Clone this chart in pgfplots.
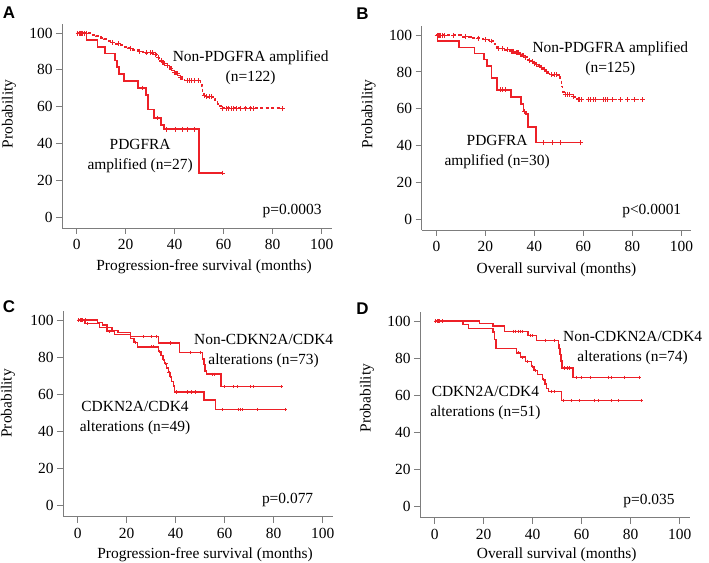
\documentclass[border=0pt]{standalone}
\usepackage{fontspec}
\setmainfont{Liberation Serif}
\newfontfamily\lettfont{Liberation Sans}
\usepackage{pgfplots}
\pgfplotsset{compat=1.18}
\definecolor{kmred}{RGB}{237,32,39}
\definecolor{axgray}{RGB}{125,125,125}
\newcommand\tf{\fontsize{15.5}{20}\selectfont}
\pgfplotsset{km/.style={
  scale only axis, width=269.5bp, height=204bp,
  xmin=-6, xmax=104, ymin=-6, ymax=105,
  axis x line*=bottom, axis y line*=left,
  axis line style={axgray, line width=0.9bp},
  xtick={0,20,...,100}, ytick={0,20,...,100},
  tick align=outside, major tick length=6bp,
  tick style={axgray, line width=0.9bp},
  tick label style={font=\tf, text=black},
  xticklabel style={yshift=-2bp},
  /pgf/number format/assume math mode=true,
  label style={font=\tf},
  ylabel=Probability,
  anchor=south west, clip=false,
},
kmline/.style={color=kmred, draw=kmred, mark=none, line width=1.7bp, const plot},
kmthin/.style={color=kmred, draw=kmred, mark=none, line width=1.35bp, const plot},
kmmark/.style={color=kmred, draw=kmred, only marks, mark=+, mark size=2.4bp, mark options={draw=kmred, line width=0.9bp}},
kmmarks/.style={color=kmred, draw=kmred, only marks, mark=+, mark size=1.6bp, mark options={draw=kmred, line width=0.9bp}},
}
\begin{document}
\begin{tikzpicture}
\useasboundingbox (0,0) rectangle (709bp,563bp);
% ---------------- A
\begin{axis}[km, at={(62bp,335bp)},
  xlabel={Progression-free survival (months)},
  ylabel style={at={(axis description cs:-0.197,0.56)}, anchor=center},
  xlabel style={at={(axis description cs:0.527,-0.19)}, anchor=center}]
\addplot[kmline] coordinates {(0,100) (4,96.3) (8.5,92.6) (11.5,88.9) (15.5,85.2) (16.5,81.5) (17.3,77.8) (19.3,73.9) (25,70.2) (28.3,66.2) (29.2,58.5) (31.6,53.8) (34.5,50.2) (35.7,47.7) (49.8,23.9) (59.5,23.9)};
\addplot[kmmark] coordinates {(1,100) (2,100) (27,70.2) (33,53.8) (36.5,47.7) (40.4,47.7) (43.2,47.7) (45.2,47.7) (47.9,47.7) (59.5,23.9)};
\addplot[kmline, dash pattern=on 3bp off 2.5bp] coordinates {(0,100) (6,99.2) (8,98.4) (10,97.5) (11,96.7) (13,95.9) (14,95.0) (16,94.2) (18,93.4) (19.5,92.6) (21,91.8) (23,91.0) (25,90.1) (27,89.3) (31.5,88.5) (32.5,87.6) (33,86.8) (33.5,85.9) (34,85.0) (35,84.2) (35.5,83.3) (36.5,82.4) (37.5,81.5) (38,80.6) (39,79.7) (39.5,78.8) (40.5,77.9) (41.5,77.0) (42,76.1) (43,75.2) (44,74.3) (50.5,73.4) (51,71) (51.3,68.5) (51.8,66.3) (52.5,65.4) (55.5,64.5) (56.5,63.5) (57,62.5) (57.5,61.5) (58.3,60.5) (59,59.2) (84,59.2)};
\addplot[kmmark] coordinates {(0.5,100) (1,100) (1.5,100) (2,100) (2.5,100) (3,100) (4,100) (14.5,95) (17,94.2) (22,91.8) (25.5,90.1) (28.5,89.3) (30,89.3) (31,89.3) (32,88.5) (33.2,86.8) (34.5,85) (35.2,84.2) (36,83.3) (37,82.4) (38.5,80.6) (40,78.8) (41,77.9) (42.5,76.1) (45,74.3) (46,74.3) (47,74.3) (48,74.3) (49.5,74.3) (52,66.3) (53,65.4) (54,65.4) (55,65.4) (59.5,59.2) (61,59.2) (62,59.2) (63,59.2) (64,59.2) (65,59.2) (67,59.2) (69,59.2) (71,59.2) (72,59.2) (84,59.2)};
\node[font=\tf, align=center] at (axis cs:71,81.3) {Non-PDGFRA amplified\\(n=122)};
\node[font=\tf, align=center] at (axis cs:25.9,33.0) {PDGFRA\\amplified (n=27)};
\node[font=\tf, anchor=east, inner sep=0pt] at (axis cs:100,3.3) {p=0.0003};
\end{axis}
% ---------------- B
\begin{axis}[km, at={(421.7bp,333bp)},
  xlabel={Overall survival (months)},
  ylabel style={at={(axis description cs:-0.197,0.57)}, anchor=center},
  xlabel style={at={(axis description cs:0.50,-0.196)}, anchor=center}]
\addplot[kmline] coordinates {(0,100) (0.5,96.7) (9.1,93.3) (15.5,90) (19.3,86.7) (20.7,83.3) (22.5,76.7) (24.8,70.3) (30.5,66.5) (34.5,62.5) (35.6,58.5) (36.5,57) (37.5,50.2) (40.6,41.6) (59.5,41.6)};
\addplot[kmmark] coordinates {(26,70.3) (27,70.3) (28,70.3) (36,58.5) (43.8,41.6) (47.2,41.6) (50.6,41.6) (58.8,41.6)};
\addplot[kmline, dash pattern=on 3bp off 2.5bp] coordinates {(0,100) (10,99.2) (14,98.4) (19,97.6) (21.5,96.8) (23,95.2) (24,93.6) (25,92.8) (28,92.0) (30,91.2) (32,90.4) (34,89.6) (35,88.8) (36,88.0) (37,87.2) (37.5,86.4) (38.5,85.6) (39.5,84.8) (40.5,84.0) (41.5,83.2) (42.5,82.4) (43.5,81.6) (44.5,80.4) (45.5,79.2) (46.5,78.4) (50,77.6) (50.5,75.5) (51,72) (51.5,69) (52,67.8) (55.5,66.5) (57.5,65) (84,65)};
\addplot[kmmark] coordinates {(0.3,100) (0.8,100) (1.3,100) (1.8,100) (2.5,100) (3.2,100) (7,100) (12,99.2) (17,98.4) (20,97.6) (22.5,96.8) (25.5,92.8) (27,92.8) (29,92.0) (30.5,91.2) (31,91.2) (31.5,91.2) (32.5,90.4) (33,90.4) (33.5,90.4) (34.5,89.6) (35.5,88.8) (36.5,88.0) (38,86.4) (39,85.6) (40,84.8) (41,84.0) (42,83.2) (43,82.4) (44,81.6) (45,80.4) (47,78.4) (48,78.4) (49,78.4) (52.5,67.8) (53.5,67.8) (54.5,67.8) (56,66.5) (58,65) (58.5,65) (59,65) (62,65) (63,65) (64,65) (65,65) (68,65) (69,65) (70,65) (72,65) (75,65) (78,65) (81,65) (84,65)};
\node[font=\tf, align=center] at (axis cs:71,87.0) {Non-PDGFRA amplified\\(n=125)};
\node[font=\tf, align=center] at (axis cs:24.8,36.5) {PDGFRA\\amplified (n=30)};
\node[font=\tf, anchor=east, inner sep=0pt] at (axis cs:100,4.6) {p<0.0001};
\end{axis}
% ---------------- C
\begin{axis}[km, height=206bp, at={(63bp,46.3bp)},
  xlabel={Progression-free survival (months)},
  ylabel style={at={(axis description cs:-0.204,0.55)}, anchor=center},
  xlabel style={at={(axis description cs:0.527,-0.186)}, anchor=center}]
\addplot[kmthin] coordinates {(0,100) (8,98.6) (10,97.3) (12,95.9) (14,94.5) (16.5,93.2) (21.5,91.0) (33,87.6) (41.5,82.6) (51,79) (51.5,76) (52,72.5) (52.5,70.8) (58.5,64.1) (83.3,64.1)};
\addplot[kmmarks] coordinates {(1,100) (2,100) (3,100) (27,91) (30,91) (32,91) (38,87.6) (46,82.6) (50,82.6) (55,70.8) (56,70.8) (60,64.1) (63.7,64.1) (65,64.1) (70.4,64.1) (71.8,64.1) (83.3,64.1)};
\addplot[kmthin] coordinates {(0,100) (3,98) (9,96) (12,94) (15,92) (21.5,90) (23,88) (24.5,85.5) (33,83) (34,81) (34.8,78.8) (35.5,76.5) (36.2,74.2) (37,71.8) (37.7,69.5) (38.3,67) (39,64.5) (39.6,61.2) (51.5,56.9) (56.2,51.7) (84.7,51.7)};
\addplot[kmmarks] coordinates {(0.5,100) (1.5,100) (4,98) (13,94) (23.5,88) (30,85.5) (31,85.5) (33.5,83) (35,78.8) (36,76.5) (37.3,71.8) (38,69.5) (40.5,61.2) (44.7,61.2) (46.5,61.2) (48.1,61.2) (58.9,51.7) (65.7,51.7) (66.4,51.7) (67.1,51.7) (73.2,51.7) (84.7,51.7)};
\node[font=\tf, align=center] at (axis cs:75.9,83.5) {Non-CDKN2A/CDK4\\alterations (n=73)};
\node[font=\tf, align=center] at (axis cs:23.4,47.4) {CDKN2A/CDK4\\alterations (n=49)};
\node[font=\tf, anchor=east, inner sep=0pt] at (axis cs:96.2,3.1) {p=0.077};
\end{axis}
% ---------------- D
\begin{axis}[km, height=206bp, at={(420bp,45.3bp)},
  xlabel={Overall survival (months)},
  ylabel style={at={(axis description cs:-0.197,0.58)}, anchor=center},
  xlabel style={at={(axis description cs:0.507,-0.181)}, anchor=center}]
\addplot[kmthin] coordinates {(0,100) (18.4,98.6) (23.8,97.3) (28.6,94.4) (38.1,92.0) (41.5,89.6) (50.4,87.5) (50.8,85) (51.2,82) (51.6,78.5) (52,74.7) (56.5,69.7) (83.7,69.7)};
\addplot[kmmarks] coordinates {(0.5,100) (1,100) (1.5,100) (2,100) (3,100) (32,94.4) (33,94.4) (34,94.4) (35,94.4) (36,94.4) (39,92) (40,92) (45,89.6) (49,89.6) (53,74.7) (54,74.7) (55,74.7) (57.8,69.7) (59.9,69.7) (63.4,69.7) (70.8,69.7) (72.1,69.7) (77.6,69.7) (83.7,69.7)};
\addplot[kmthin] coordinates {(0,100) (11.6,98) (13.8,96.1) (23.8,94) (24.3,90) (25,85.3) (33.3,82.8) (35,80.5) (37,78.2) (39.5,75.5) (40.5,73.3) (42,71) (44,68.6) (45,66) (45.5,63.7) (46.5,62) (51.7,57.1) (84.4,57.1)};
\addplot[kmmarks] coordinates {(0.5,100) (1,100) (2,100) (34,82.8) (36,80.5) (38,78.2) (40,75.5) (41,73.3) (44.5,68.6) (47.5,62) (49,62) (52.4,57.1) (55.8,57.1) (59.2,57.1) (65.3,57.1) (66.7,57.1) (72.1,57.1) (74.8,57.1) (84.4,57.1)};
\node[font=\tf, align=center] at (axis cs:80.8,85.6) {Non-CDKN2A/CDK4\\alterations (n=74)};
\node[font=\tf, align=center] at (axis cs:20.7,55.7) {CDKN2A/CDK4\\alterations (n=51)};
\node[font=\tf, anchor=east, inner sep=0pt] at (axis cs:98,2.9) {p=0.035};
\end{axis}
% panel letters
\node[font=\lettfont\bfseries\fontsize{17}{17}\selectfont] at (9bp,550bp) {A};
\node[font=\lettfont\bfseries\fontsize{17}{17}\selectfont] at (362.5bp,549bp) {B};
\node[font=\lettfont\bfseries\fontsize{17}{17}\selectfont] at (9bp,256.3bp) {C};
\node[font=\lettfont\bfseries\fontsize{17}{17}\selectfont] at (362.5bp,254.7bp) {D};
\end{tikzpicture}
\end{document}
